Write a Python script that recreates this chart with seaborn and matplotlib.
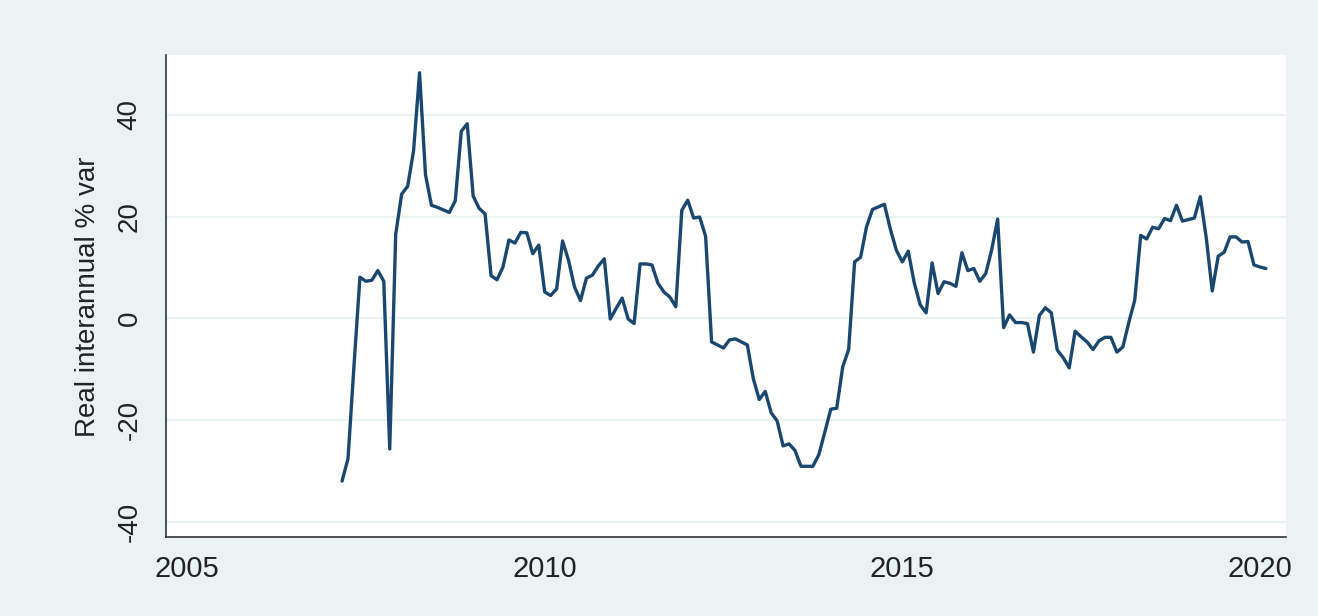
import numpy as np
import pandas as pd
import matplotlib
matplotlib.use('Agg')
import matplotlib.pyplot as plt
import seaborn as sns

# monthly series, March 2007 - February 2020
start_month = '2007-03'
var_2007 = [-31.9, -27.5, -9.3, 8.1, 7.3, 7.5, 9.4, 7.3, -25.6, 16.5]
var_2008 = [24.4, 25.9, 32.9, 48.2, 28.2, 22.2, 21.8, 21.3, 20.8, 23.1, 36.7, 38.2]
var_2009 = [24.0, 21.6, 20.5, 8.4, 7.6, 10.1, 15.4, 14.8, 16.9, 16.8, 12.7, 14.4]
var_2010 = [5.2, 4.5, 5.8, 15.2, 11.4, 6.2, 3.5, 7.9, 8.5, 10.3, 11.7, -0.1]
var_2011 = [2.0, 4.0, -0.1, -1.0, 10.7, 10.7, 10.5, 6.9, 5.2, 4.2, 2.3, 21.2]
var_2012 = [23.2, 19.7, 19.9, 16.1, -4.6, -5.2, -5.8, -4.2, -4.0, -4.6, -5.2, -11.8]
var_2013 = [-15.9, -14.3, -18.5, -20.1, -25.0, -24.6, -25.9, -29.0, -29.0, -29.0, -26.7, -22.3]
var_2014 = [-17.8, -17.6, -9.5, -6.1, 11.1, 12.0, 18.0, 21.4, 21.9, 22.4, 17.5, 13.4]
var_2015 = [11.1, 13.2, 7.0, 2.7, 1.1, 10.9, 4.9, 7.2, 6.9, 6.3, 12.9, 9.4]
var_2016 = [9.8, 7.3, 8.8, 13.5, 19.5, -1.8, 0.7, -0.8, -0.8, -1.0, -6.6, 0.6]
var_2017 = [2.1, 1.1, -6.2, -7.7, -9.7, -2.5, -3.6, -4.6, -6.1, -4.4, -3.7, -3.7]
var_2018 = [-6.6, -5.6, -0.8, 3.6, 16.3, 15.6, 17.9, 17.6, 19.6, 19.2, 22.2, 19.1]
var_2019 = [19.4, 19.7, 23.9, 15.8, 5.4, 12.2, 13.0, 16.0, 16.0, 15.0, 15.1, 10.5]
var_2020 = [10.1, 9.8]

x_ticks = [2005, 2010, 2015, 2020]
y_ticks = [-40, -20, 0, 20, 40]
y_label = 'Real interannual % var'

values = (var_2007 + var_2008 + var_2009 + var_2010 + var_2011 + var_2012 + var_2013
          + var_2014 + var_2015 + var_2016 + var_2017 + var_2018 + var_2019 + var_2020)
dates = pd.date_range(start_month, periods=len(values), freq='MS')
df = pd.DataFrame({'t': dates.year + (dates.month - 1) / 12, 'var': values})

bg = '#eaf2f3'
line_col = '#1a476f'

sns.set_style('white')
plt.rcParams['font.family'] = ['Liberation Sans', 'DejaVu Sans']

fig = plt.figure(figsize=(13.18, 6.16), dpi=100, facecolor=bg)
ax = fig.add_axes([0.126, 0.128, 0.850, 0.782])
ax.set_facecolor('white')

sns.lineplot(data=df, x='t', y='var', ax=ax, color=line_col, linewidth=2.4, zorder=3)

ax.set_xlim(2004.706, 2020.37)
ax.set_ylim(-42.9, 51.6)
ax.set_xticks(x_ticks)
ax.set_yticks(y_ticks)
ax.set_xticklabels([str(v) for v in x_ticks], fontsize=21, color='#222222')
ax.set_yticklabels([str(v) for v in y_ticks], fontsize=20, color='#222222',
                   rotation=90, va='center')
ax.grid(axis='y', color=bg, linewidth=1.6, zorder=0)
ax.tick_params(axis='x', length=8, width=1, color='#333333', pad=5)
ax.tick_params(axis='y', length=10, width=1, color='#333333', pad=7)

for side in ['top', 'right']:
    ax.spines[side].set_visible(False)
for side in ['left', 'bottom']:
    ax.spines[side].set_color('#333333')
    ax.spines[side].set_linewidth(1.2)

ax.set_xlabel('')
ax.set_ylabel(y_label, fontsize=20, color='#222222', labelpad=11)

fig.savefig('out.png', dpi=100, facecolor=bg)
plt.close(fig)
